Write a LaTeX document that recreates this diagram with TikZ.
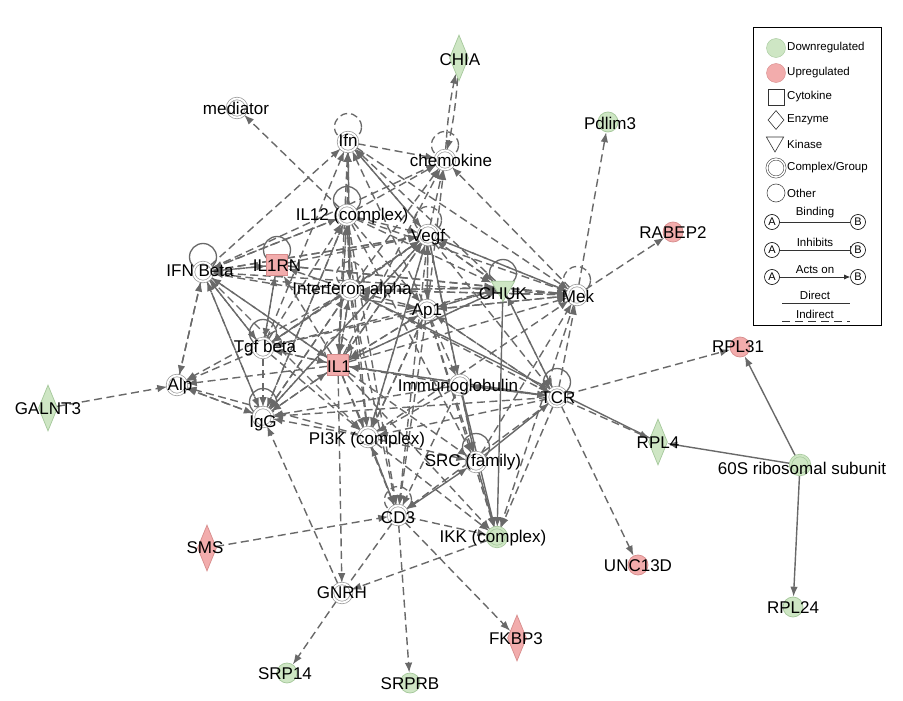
\documentclass[tikz,border=0pt]{standalone}
\usepackage{fontspec}
\setmainfont{Liberation Sans}
\usetikzlibrary{arrows.meta,shapes.geometric,calc}
\pgfdeclarelayer{bg}
\pgfsetlayers{bg,main}
\definecolor{egray}{RGB}{105,105,105}
\definecolor{sgray}{RGB}{150,150,150}
\definecolor{gfill}{RGB}{206,230,196}
\definecolor{gdraw}{RGB}{165,200,155}
\definecolor{pfill}{RGB}{242,172,172}
\definecolor{pdraw}{RGB}{215,140,140}
\begin{document}
\begin{tikzpicture}[x=1pt,y=1pt,
  grp/.style={circle,draw=sgray,line width=0.7pt,double=white,double distance=1.8pt,minimum size=19pt,inner sep=0pt,fill=white},
  grpg/.style={grp,draw=gdraw,double=gfill,fill=gfill},
  gc/.style={circle,draw=gdraw,fill=gfill,line width=0.7pt,minimum size=20pt,inner sep=0pt},
  pc/.style={circle,draw=pdraw,fill=pfill,line width=0.7pt,minimum size=20pt,inner sep=0pt},
  psq/.style={rectangle,draw=pdraw,fill=pfill,line width=0.7pt,minimum size=21pt,inner sep=0pt},
  gdia/.style={diamond,draw=gdraw,fill=gfill,line width=0.7pt,minimum width=19pt,minimum height=46pt,inner sep=0pt},
  pdia/.style={diamond,draw=pdraw,fill=pfill,line width=0.7pt,minimum width=19pt,minimum height=46pt,inner sep=0pt},
  gkin/.style={regular polygon,regular polygon sides=3,shape border rotate=180,draw=gdraw,fill=gfill,line width=0.7pt,minimum size=27pt,inner sep=0pt},
  lab/.style={font=\fontsize{17}{19}\selectfont,text=black,inner sep=0pt},
  ed/.style={draw=egray,line width=1.4pt,dash pattern=on 8pt off 4.5pt,-{Latex[length=10pt,width=7.5pt]}},
  edn/.style={draw=egray,line width=1.4pt,dash pattern=on 8pt off 4.5pt},
  es/.style={draw=egray,line width=1.4pt,-{Latex[length=10pt,width=7.5pt]}},
  esn/.style={draw=egray,line width=1.4pt},
  lps/.style={draw=egray,line width=1.3pt},
  lpd/.style={draw=egray,line width=1.3pt,dash pattern=on 7pt off 4pt},
  legt/.style={font=\fontsize{11.5}{13}\selectfont,text=black,inner sep=0pt,anchor=west},
  legab/.style={circle,draw=black,line width=0.6pt,minimum size=15pt,inner sep=0pt,font=\fontsize{11}{12}\selectfont,fill=white},
  legl/.style={font=\fontsize{11.5}{13}\selectfont,text=black,inner sep=0pt}
]
\useasboundingbox (0,0) rectangle (903,-701);

% ---------- symbols ----------
\node[grp] (med) at (237,-108) {};
\node[grp] (ifn) at (348,-142) {};
\node[grp] (chem) at (445,-160) {};
\node[grp] (il12) at (347,-215) {};
\node[grp] (vegf) at (428,-235) {};
\node[grp] (ifnb) at (203,-272) {};
\node[psq] (il1rn) at (277,-265) {};
\node[grp] (ifna) at (350,-290) {};
\node[grp] (ap1) at (427,-310) {};
\node[gkin] (chuk) at (503,-288) {};
\node[grp] (mek) at (577,-295) {};
\node[grp] (tgfb) at (263,-348) {};
\node[psq] (il1) at (338,-365) {};
\node[grp] (alp) at (177,-385) {};
\node[grp] (ig) at (460,-385) {};
\node[grp] (tcr) at (557,-397) {};
\node[grp] (igg) at (263,-417) {};
\node[grp] (pi3k) at (368,-437) {};
\node[grp] (src) at (476,-462) {};
\node[grp] (cd3) at (398,-515) {};
\node[grpg] (ikk) at (497,-537) {};
\node[grp] (gnrh) at (342,-593) {};
\node[gc] (srp14) at (287,-673) {};
\node[gc] (srprb) at (410,-683) {};
\node[pdia] (fkbp3) at (517,-638) {};
\node[pdia] (sms) at (207,-548) {};
\node[gdia] (galnt3) at (48,-408) {};
\node[gdia] (chia) at (459,-58) {};
\node[gc] (pdlim3) at (608,-122) {};
\node[pc] (rabep2) at (673,-232) {};
\node[pc] (rpl31) at (740,-347) {};
\node[gdia] (rpl4) at (658,-442) {};
\node[grpg] (s60) at (800,-465) {};
\node[pc] (unc) at (638,-565) {};
\node[gc] (rpl24) at (793,-607) {};

\begin{pgfonlayer}{bg}
\fill[white] (0,0) rectangle (903,-701);
% self loops
\foreach \n in {il12,ifnb,il1rn,chuk,tgfb,tcr,igg,src}
  \draw[lps] ($(\n)+(0,15)$) circle (13.5);
\foreach \n in {ifn,chem,vegf,ifna,mek,il1,cd3}
  \draw[lpd] ($(\n)+(0,15)$) circle (13.5);

% dashed edges
\foreach \s/\t in {
 il12/ifn, ifna/ifn, vegf/ifn, ap1/ifn, il1/ifn, tgfb/ifn, chuk/ifn, ifnb/ifn,
 ifn/chem, il12/chem, vegf/chem, ifnb/chem, ifna/chem, ap1/chem, il1/chem, mek/chem,
 il1/il12, igg/il12, ifnb/il12, tgfb/il12, ifna/il12,
 ifn/vegf, il12/vegf, ifna/vegf, il1/vegf, tgfb/vegf, ap1/vegf, mek/vegf, chuk/vegf, pi3k/vegf, igg/vegf, ifnb/vegf, il1rn/vegf,
 il12/ifnb, vegf/ifnb, ifna/ifnb, tgfb/ifnb, alp/ifnb, il1/ifnb, igg/ifnb, il1rn/ifnb,
 tgfb/il1rn, il1/il1rn, ifna/il1rn, ifnb/il1rn,
 il12/ifna, ifn/ifna, chuk/ifna, mek/ifna, igg/ifna, il1/ifna, ap1/ifna, tcr/ifna,
 vegf/ap1, chuk/ap1, mek/ap1, il1/ap1, tcr/ap1, ifnb/ap1, pi3k/ap1, il12/ap1,
 vegf/mek, il12/mek, ifn/mek, ap1/mek, ifna/mek, tcr/mek, chuk/mek, il1/mek, src/mek, pi3k/mek, ifnb/mek, il1rn/mek,
 vegf/chuk, il1/chuk, tcr/chuk, ifna/chuk, ap1/chuk, il12/chuk, il1rn/chuk, tgfb/chuk,
 ifnb/tgfb, il1/tgfb, ifna/tgfb, vegf/tgfb, ap1/tgfb, il1rn/tgfb,
 ifnb/il1, il12/il1, vegf/il1, ifna/il1, ig/il1, tgfb/il1, igg/il1, ap1/il1, chuk/il1, tcr/il1,
 tgfb/alp, il1/alp, igg/alp, ifna/alp, pi3k/alp, ifnb/alp,
 tcr/ig, ap1/ig,
 ifnb/igg, tgfb/igg, il1/igg, ifna/igg, vegf/igg, il12/igg, alp/igg, ig/igg, tcr/igg, pi3k/igg,
 il1/pi3k, ifna/pi3k, il12/pi3k, vegf/pi3k, tgfb/pi3k, ap1/pi3k, cd3/pi3k, tcr/pi3k, ig/pi3k, ifnb/pi3k,
 il12/src, vegf/src, pi3k/src, il1/src, ap1/src,
 pi3k/cd3, il1/cd3, ifna/cd3, vegf/cd3, ap1/cd3, ig/cd3, tcr/cd3, il12/cd3, sms/cd3,
 tcr/ikk, cd3/ikk, il1/ikk, mek/ikk, ap1/ikk, pi3k/ikk,
 ig/tcr, chuk/tcr, vegf/tcr, il1/tcr, ap1/tcr,
 il12/med, mek/pdlim3, mek/rabep2, tcr/rpl31, tcr/rpl4, tcr/unc,
 galnt3/alp, gnrh/srp14, cd3/srprb, cd3/fkbp3, il1/gnrh, gnrh/igg, ikk/gnrh}
  \draw[ed] (\s) -- (\t);
\draw[ed] (chia) to[bend left=4] (chem);
\draw[ed] (chem) to[bend left=4] (chia);
\draw[edn] (cd3) -- (gnrh);

% solid edges
\foreach \s/\t in {s60/rpl31, s60/rpl24, s60/rpl4, vegf/ig, ig/src, src/ikk, ig/ikk, chuk/ikk, src/tcr}
  \draw[es] (\s) -- (\t);
\draw[es,{Latex[length=10pt,width=7.5pt]}-{Latex[length=10pt,width=7.5pt]}] (cd3) -- (src);
\draw[esn] (ifna) -- (rpl4);
\end{pgfonlayer}

% ---------- labels ----------
\node[lab] (med-t) at (236,-108) {mediator};
\node[lab] (ifn-t) at (348,-140) {Ifn};
\node[lab] (chem-t) at (451,-160) {chemokine};
\node[lab] (il12-t) at (352,-216) {IL12 (complex)};
\node[lab] (vegf-t) at (428,-237) {Vegf};
\node[lab] (ifnb-t) at (200,-271) {IFN Beta};
\node[lab] (il1rn-t) at (277,-266) {IL1RN};
\node[lab] (ifna-t) at (352,-290) {Interferon alpha};
\node[lab] (ap1-t) at (427,-311) {Ap1};
\node[lab] (chuk-t) at (503,-294) {CHUK};
\node[lab] (mek-t) at (578,-296) {Mek};
\node[lab] (tgfb-t) at (265,-348) {Tgf beta};
\node[lab] (il1-t) at (339,-367) {IL1};
\node[lab] (alp-t) at (180,-386) {Alp};
\node[lab] (ig-t) at (458,-387) {Immunoglobulin};
\node[lab] (tcr-t) at (558,-398) {TCR};
\node[lab] (igg-t) at (263,-423) {IgG};
\node[lab] (pi3k-t) at (367,-440) {PI3K (complex)};
\node[lab] (src-t) at (473,-462) {SRC (family)};
\node[lab] (cd3-t) at (398,-518) {CD3};
\node[lab] (ikk-t) at (493,-538) {IKK (complex)};
\node[lab] (gnrh-t) at (342,-593) {GNRH};
\node[lab] (srp14-t) at (285,-674) {SRP14};
\node[lab] (srprb-t) at (410,-684) {SRPRB};
\node[lab] (fkbp3-t) at (516,-639) {FKBP3};
\node[lab] (sms-t) at (205,-548) {SMS};
\node[lab] (galnt3-t) at (48,-409) {GALNT3};
\node[lab] (chia-t) at (460,-60) {CHIA};
\node[lab] (pdlim3-t) at (610,-123) {Pdlim3};
\node[lab] (rabep2-t) at (673,-233) {RABEP2};
\node[lab] (rpl31-t) at (738,-347) {RPL31};
\node[lab] (rpl4-t) at (658,-443) {RPL4};
\node[lab] (s60-t) at (802,-468) {60S ribosomal subunit};
\node[lab] (unc-t) at (638,-566) {UNC13D};
\node[lab] (rpl24-t) at (793,-608) {RPL24};

% ---------- legend ----------
\node[draw=black,line width=1.1pt,minimum width=128pt,minimum height=298pt,anchor=north west,inner sep=0pt] (legend) at (753,-27) {};
\node[circle,draw=gdraw,fill=gfill,minimum size=19pt,inner sep=0pt] (lg1) at (776,-48) {};
\node[legt] (lg1-t) at (787,-48) {Downregulated};
\node[circle,draw=pdraw,fill=pfill,minimum size=19pt,inner sep=0pt] (lg2) at (776,-73) {};
\node[legt] (lg2-t) at (787,-73) {Upregulated};
\node[rectangle,draw=black!80,line width=0.6pt,minimum size=16pt,inner sep=0pt] (lg3) at (776,-97) {};
\node[legt] (lg3-t) at (787,-97) {Cytokine};
\node[diamond,draw=black!80,line width=0.6pt,minimum width=16pt,minimum height=19pt,inner sep=0pt] (lg4) at (776,-120) {};
\node[legt] (lg4-t) at (787,-120) {Enzyme};
\node[regular polygon,regular polygon sides=3,shape border rotate=180,draw=black!80,line width=0.6pt,minimum size=20pt,inner sep=0pt] (lg5) at (775,-142) {};
\node[legt] (lg5-t) at (787,-144) {Kinase};
\node[circle,draw=black!80,line width=0.5pt,double=white,double distance=1.6pt,minimum size=18pt,inner sep=0pt] (lg6) at (776,-168) {};
\node[legt] (lg6-t) at (787,-168) {Complex/Group};
\node[circle,draw=black!70,line width=0.6pt,minimum size=18pt,inner sep=0pt] (lg7) at (776,-193) {};
\node[legt] (lg7-t) at (787,-193) {Other};
\node[legab] (ba) at (772,-222) {A};
\node[legab] (bb) at (858,-222) {B};
\draw[draw=black!80,line width=0.7pt] (ba) -- (bb);
\node[legl] (bl) at (815,-213) {Binding};
\node[legab] (ia) at (772,-250) {A};
\node[legab] (ib) at (858,-250) {B};
\draw[draw=black!80,line width=0.7pt,-{Bar[width=8pt]}] (ia) -- (ib);
\node[legl] (il) at (815,-242) {Inhibits};
\node[legab] (aa) at (772,-277) {A};
\node[legab] (ab) at (858,-277) {B};
\draw[draw=black!80,line width=0.7pt,-{Latex[length=6pt,width=5pt]}] (aa) -- (ab);
\node[legl] (al) at (815,-270) {Acts on};
\node[legl] (dl) at (815,-295) {Direct};
\coordinate (d1) at (782,-303);
\coordinate (d2) at (850,-303);
\draw[draw=black!80,line width=0.7pt] (d1) -- (d2);
\node[legl] (il2) at (815,-314) {Indirect};
\coordinate (i1) at (782,-321);
\coordinate (i2) at (850,-321);
\draw[draw=black!80,line width=0.7pt,dash pattern=on 8pt off 5pt] (i1) -- (i2);
\end{tikzpicture}
\end{document}
